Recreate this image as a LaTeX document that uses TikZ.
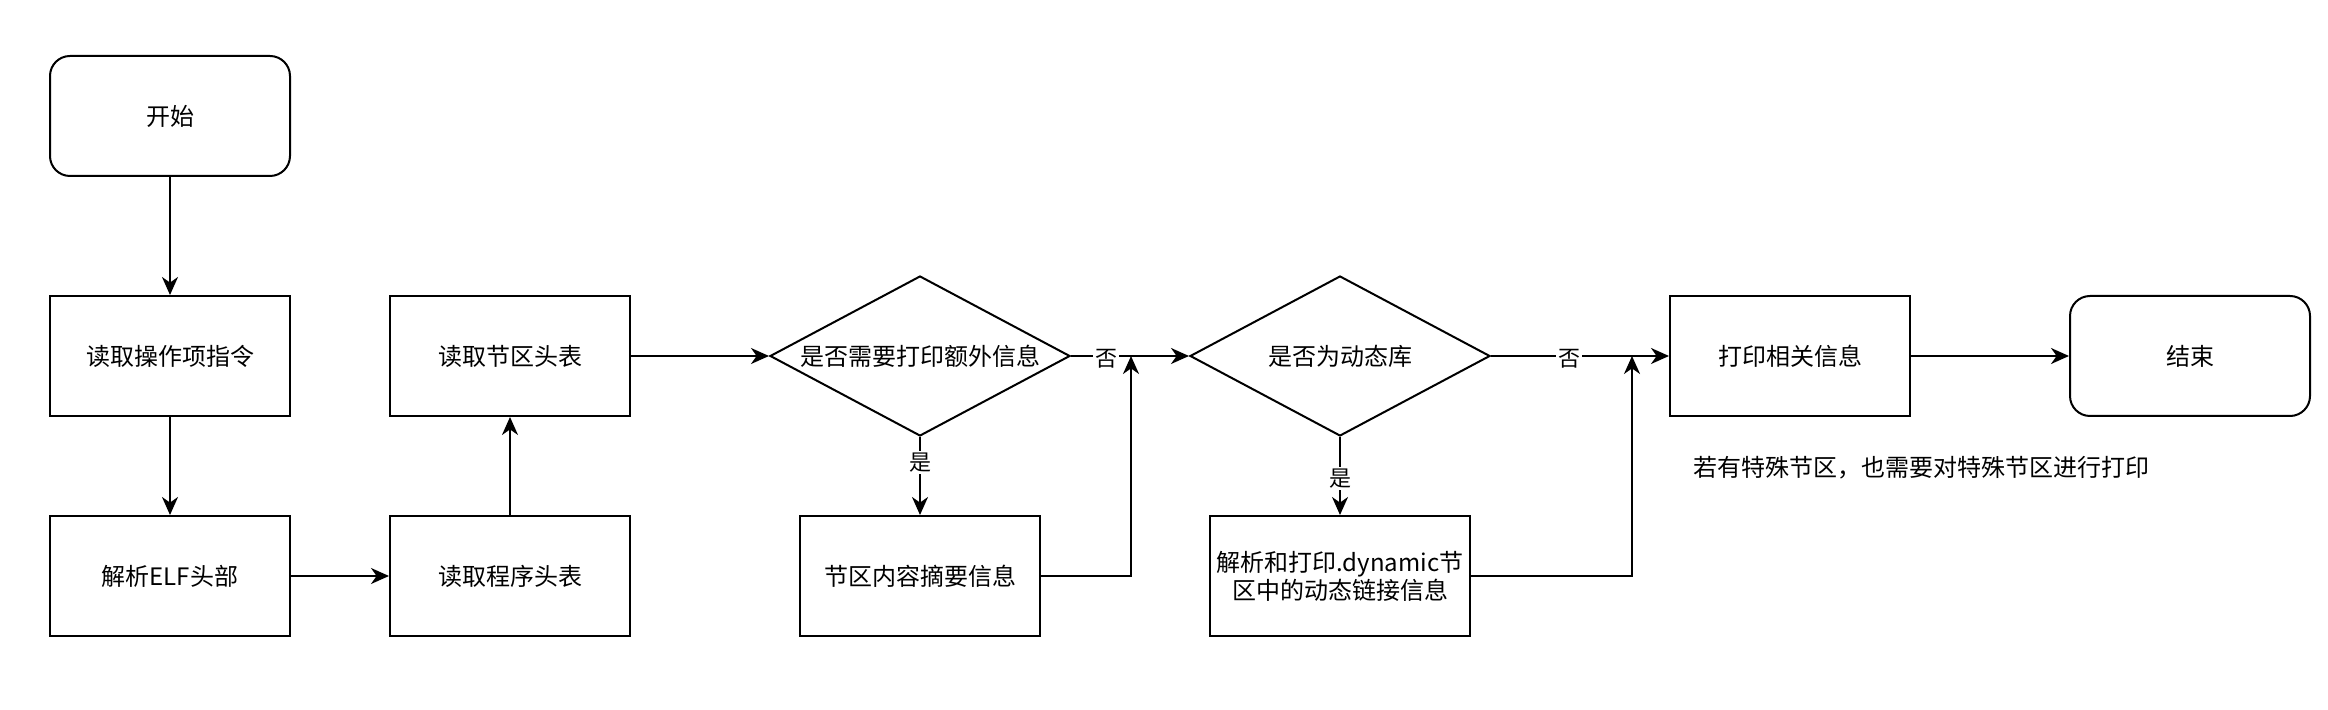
\documentclass[tikz,border=0pt]{standalone}
\usepackage{fontspec}
\setmainfont{Noto Sans CJK SC}
\usetikzlibrary{arrows.meta,shapes.geometric}
\begin{document}
\begin{tikzpicture}[x=0.5pt,y=-0.5pt,
  txt/.style={font=\fontsize{12pt}{12.6pt}\selectfont},
  box/.style={txt, draw, line width=1pt, minimum width=120pt, minimum height=60pt, inner sep=0pt, align=center},
  rbox/.style={box, rounded corners=10pt},
  dia/.style={txt, draw, line width=1pt, shape=diamond, shape aspect=1.875, minimum width=150pt, minimum height=80pt, inner sep=0pt},
  arr/.style={draw, line width=1pt, -{Stealth[length=9pt,width=8pt,inset=2.8pt]}},
  lbl/.style={font=\fontsize{11pt}{11pt}\selectfont, fill=white, inner sep=1pt, yshift=-1.5pt}]
\useasboundingbox (0,0) rectangle (2328,710);
\node[rbox] (start) at (170,116) {开始};
\node[box] (op) at (170,356) {读取操作项指令};
\node[box] (elf) at (170,576) {解析ELF头部};
\node[box] (sec) at (510,356) {读取节区头表};
\node[box] (prog) at (510,576) {读取程序头表};
\node[dia] (d1) at (920,356) {是否需要打印额外信息};
\node[box] (sum) at (920,576) {节区内容摘要信息};
\node[dia] (d2) at (1340,356) {是否为动态库};
\node[box, minimum width=130pt] (dyn) at (1340,576) {解析和打印.dynamic节\\区中的动态链接信息};
\node[box] (pr) at (1790,356) {打印相关信息};
\node[rbox] (end) at (2190,356) {结束};
\node[txt, anchor=west, inner sep=0pt] (note) at (1693,468) {若有特殊节区，也需要对特殊节区进行打印};
\coordinate (j1) at (1131,356);
\coordinate (j2) at (1632,356);
\draw[arr] (start) -- (op);
\draw[arr] (op) -- (elf);
\draw[arr] (elf) -- (prog);
\draw[arr] (prog) -- (sec);
\draw[arr] (sec) -- (d1.west);
\draw[arr] (d1.east) -- node[lbl, pos=0.3] (no1) {否} (d2.west);
\draw[arr] (d1.south) -- node[lbl, pos=0.29] (yes1) {是} (sum.north);
\draw[arr] (sum.east) -| (j1);
\draw[arr] (d2.east) -- node[lbl, pos=0.44] (no2) {否} (pr.west);
\draw[arr] (d2.south) -- node[lbl, pos=0.49] (yes2) {是} (dyn.north);
\draw[arr] (dyn.east) -| (j2);
\draw[arr] (pr) -- (end);
\end{tikzpicture}
\end{document}
